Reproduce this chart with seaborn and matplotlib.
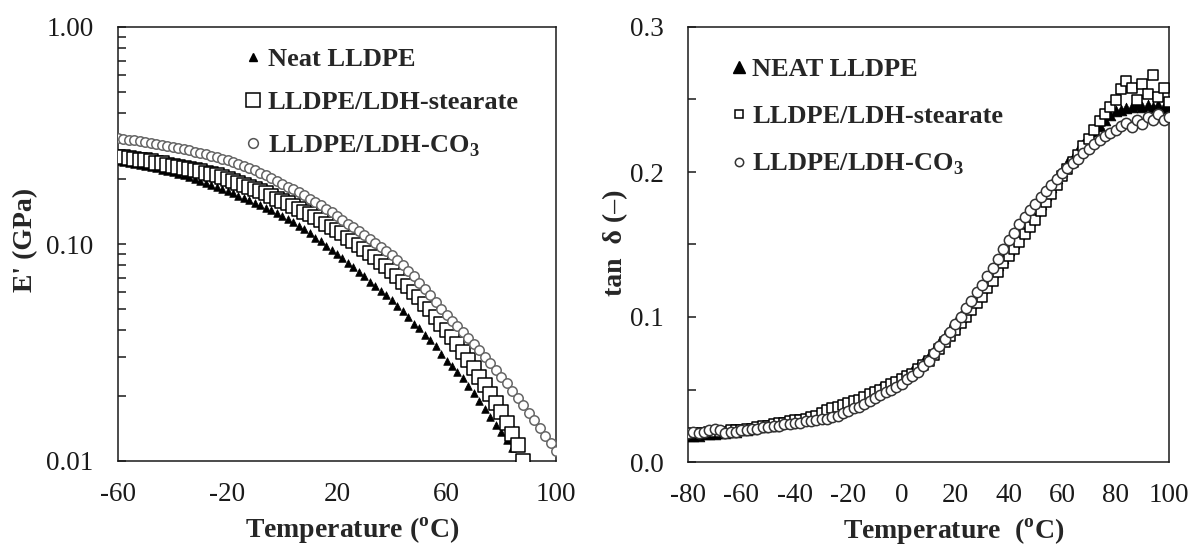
import matplotlib
matplotlib.use("Agg")
import matplotlib.pyplot as plt
import seaborn as sns
from matplotlib.lines import Line2D
from matplotlib.ticker import MultipleLocator, LogLocator, FixedLocator, FixedFormatter, NullFormatter

# ---------------- data: left panel (storage modulus, GPa) ----------------
T_neat_L = [-60, -58, -56, -54, -52, -50, -48, -46, -44, -42, -40, -38, -36, -34, -32, -30,
            -28, -26, -24, -22, -20, -18, -16, -14, -12, -10, -8, -6, -4, -2, 0, 2, 4, 6, 8,
            10, 12, 14, 16, 18, 20, 22, 24, 26, 28, 30, 32, 34, 36, 38, 40, 42, 44, 46, 48,
            50, 52, 54, 56, 58, 60, 62, 64, 66, 68, 70, 72, 74, 76, 78, 80, 82, 84]
E_neat = [0.240, 0.238, 0.235, 0.233, 0.231, 0.229, 0.226, 0.223, 0.220, 0.217, 0.214, 0.210,
          0.207, 0.203, 0.199, 0.195, 0.191, 0.187, 0.183, 0.179, 0.176, 0.171, 0.167, 0.163,
          0.159, 0.155, 0.151, 0.147, 0.143, 0.139, 0.135, 0.130, 0.126, 0.121, 0.117, 0.112,
          0.107, 0.103, 0.098, 0.094, 0.090, 0.086, 0.082, 0.078, 0.074, 0.071, 0.067, 0.064,
          0.061, 0.058, 0.055, 0.052, 0.049, 0.046, 0.043, 0.041, 0.038, 0.036, 0.034, 0.031,
          0.029, 0.0275, 0.0257, 0.0240, 0.0222, 0.0205, 0.0189, 0.0174, 0.0160, 0.0147,
          0.0136, 0.0125, 0.0115]

T_st_L = [-60, -58, -56, -54, -52, -50, -48, -46, -44, -42, -40, -38, -36, -34, -32, -30,
          -28, -26, -24, -22, -20, -18, -16, -14, -12, -10, -8, -6, -4, -2, 0, 2, 4, 6, 8,
          10, 12, 14, 16, 18, 20, 22, 24, 26, 28, 30, 32, 34, 36, 38, 40, 42, 44, 46, 48,
          50, 52, 54, 56, 58, 60, 62, 64, 66, 68, 70, 72, 74, 76, 78, 80, 82, 84, 86, 88]
E_st = [0.253, 0.251, 0.249, 0.247, 0.245, 0.243, 0.240, 0.237, 0.235, 0.232, 0.229, 0.226,
        0.224, 0.221, 0.219, 0.216, 0.213, 0.210, 0.207, 0.203, 0.200, 0.196, 0.192, 0.188,
        0.184, 0.180, 0.176, 0.171, 0.167, 0.162, 0.158, 0.154, 0.150, 0.145, 0.141, 0.137,
        0.133, 0.129, 0.124, 0.120, 0.116, 0.112, 0.107, 0.103, 0.099, 0.095, 0.091, 0.087,
        0.083, 0.079, 0.075, 0.071, 0.067, 0.064, 0.060, 0.057, 0.053, 0.050, 0.046, 0.043,
        0.040, 0.0373, 0.0346, 0.0318, 0.0292, 0.0268, 0.0245, 0.0223, 0.0203, 0.0185,
        0.0168, 0.0150, 0.0133, 0.0118, 0.0100]

T_co3_L = [-60, -58, -56, -54, -52, -50, -48, -46, -44, -42, -40, -38, -36, -34, -32, -30,
           -28, -26, -24, -22, -20, -18, -16, -14, -12, -10, -8, -6, -4, -2, 0, 2, 4, 6, 8,
           10, 12, 14, 16, 18, 20, 22, 24, 26, 28, 30, 32, 34, 36, 38, 40, 42, 44, 46, 48,
           50, 52, 54, 56, 58, 60, 62, 64, 66, 68, 70, 72, 74, 76, 78, 80, 82, 84, 86, 88,
           90, 92, 94, 96, 98, 100]
E_co3 = [0.309, 0.306, 0.303, 0.301, 0.298, 0.295, 0.292, 0.289, 0.286, 0.282, 0.279, 0.276,
         0.273, 0.270, 0.266, 0.263, 0.259, 0.255, 0.251, 0.247, 0.243, 0.238, 0.234, 0.229,
         0.224, 0.219, 0.213, 0.207, 0.202, 0.196, 0.190, 0.184, 0.179, 0.173, 0.168, 0.162,
         0.156, 0.151, 0.145, 0.140, 0.134, 0.129, 0.124, 0.120, 0.115, 0.110, 0.106, 0.101,
         0.097, 0.093, 0.089, 0.084, 0.080, 0.075, 0.071, 0.066, 0.062, 0.058, 0.054, 0.050,
         0.047, 0.0444, 0.0418, 0.0394, 0.0370, 0.0346, 0.0324, 0.0303, 0.0283, 0.0264,
         0.0245, 0.0228, 0.0211, 0.0196, 0.0181, 0.0167, 0.0154, 0.0142, 0.0131, 0.0121,
         0.0111]

# ---------------- data: right panel (tan delta) ----------------
T_R = [-80, -78, -76, -74, -72, -70, -68, -66, -64, -62, -60, -58, -56, -54, -52, -50, -48,
       -46, -44, -42, -40, -38, -36, -34, -32, -30, -28, -26, -24, -22, -20, -18, -16, -14,
       -12, -10, -8, -6, -4, -2, 0, 2, 4, 6, 8, 10, 12, 14, 16, 18, 20, 22, 24, 26, 28, 30,
       32, 34, 36, 38, 40, 42, 44, 46, 48, 50, 52, 54, 56, 58, 60, 62, 64, 66, 68, 70, 72,
       74, 76, 78, 80, 82, 84, 86, 88, 90, 92, 94, 96, 98, 100]
tan_neat = [0.018, 0.018, 0.018, 0.019, 0.019, 0.019, 0.020, 0.020, 0.021, 0.021, 0.022, 0.022,
            0.023, 0.024, 0.024, 0.025, 0.025, 0.026, 0.027, 0.027, 0.028, 0.029, 0.030, 0.031,
            0.032, 0.033, 0.034, 0.036, 0.037, 0.039, 0.040, 0.042, 0.043, 0.045, 0.047, 0.049,
            0.051, 0.052, 0.054, 0.056, 0.058, 0.060, 0.063, 0.066, 0.069, 0.073, 0.077, 0.082,
            0.086, 0.091, 0.095, 0.100, 0.105, 0.110, 0.115, 0.120, 0.125, 0.131, 0.136, 0.141,
            0.146, 0.151, 0.157, 0.162, 0.167, 0.173, 0.178, 0.184, 0.190, 0.196, 0.201, 0.206,
            0.210, 0.215, 0.219, 0.223, 0.228, 0.232, 0.236, 0.239, 0.242, 0.243, 0.244, 0.245,
            0.246, 0.245, 0.246, 0.245, 0.246, 0.245, 0.244]
tan_st = [0.019, 0.020, 0.020, 0.020, 0.021, 0.021, 0.021, 0.021, 0.022, 0.022, 0.022, 0.023,
          0.023, 0.024, 0.025, 0.025, 0.026, 0.027, 0.027, 0.028, 0.029, 0.029, 0.030, 0.031,
          0.032, 0.034, 0.036, 0.037, 0.038, 0.039, 0.041, 0.042, 0.043, 0.045, 0.047, 0.048,
          0.050, 0.052, 0.054, 0.055, 0.057, 0.059, 0.061, 0.064, 0.067, 0.070, 0.074, 0.078,
          0.083, 0.087, 0.091, 0.096, 0.100, 0.105, 0.110, 0.114, 0.120, 0.125, 0.131, 0.137,
          0.142, 0.147, 0.152, 0.157, 0.162, 0.167, 0.173, 0.179, 0.185, 0.191, 0.197, 0.202,
          0.207, 0.212, 0.218, 0.223, 0.229, 0.235, 0.240, 0.245, 0.250, 0.257, 0.263, 0.258,
          0.250, 0.261, 0.254, 0.267, 0.252, 0.258, 0.248]
tan_co3 = [0.020, 0.021, 0.020, 0.021, 0.022, 0.023, 0.022, 0.020, 0.021, 0.021, 0.022, 0.022,
           0.023, 0.023, 0.024, 0.024, 0.025, 0.025, 0.026, 0.026, 0.027, 0.027, 0.028, 0.028,
           0.029, 0.030, 0.030, 0.031, 0.032, 0.034, 0.035, 0.037, 0.038, 0.040, 0.042, 0.044,
           0.046, 0.048, 0.050, 0.052, 0.054, 0.057, 0.059, 0.062, 0.066, 0.070, 0.075, 0.080,
           0.085, 0.090, 0.095, 0.100, 0.106, 0.111, 0.117, 0.122, 0.128, 0.134, 0.140, 0.147,
           0.153, 0.158, 0.164, 0.169, 0.174, 0.178, 0.183, 0.187, 0.191, 0.195, 0.199, 0.203,
           0.206, 0.209, 0.213, 0.216, 0.219, 0.222, 0.225, 0.227, 0.229, 0.232, 0.234, 0.231,
           0.236, 0.233, 0.238, 0.236, 0.240, 0.236, 0.238]

labels_L = ["Neat LLDPE", "LLDPE/LDH-stearate", r"LLDPE/LDH-CO$_\mathbf{3}$"]
labels_R = ["NEAT LLDPE", "LLDPE/LDH-stearate", r"LLDPE/LDH-CO$_\mathbf{3}$"]
xticks_L = [-60, -20, 20, 60, 100]
yticks_L = [0.01, 0.1, 1.0]
yticklabels_L = ["0.01", "0.10", "1.00"]

# ---------------- style ----------------
sns.set_theme(style="white")
plt.rcParams["font.family"] = ["Liberation Serif", "DejaVu Serif"]
plt.rcParams["mathtext.fontset"] = "custom"
plt.rcParams["mathtext.rm"] = "Liberation Serif"
plt.rcParams["mathtext.bf"] = "Liberation Serif:bold"
plt.rcParams["axes.unicode_minus"] = False
plt.rcParams["axes.edgecolor"] = "#1a1a1a"

W, H = 1194, 545
fig = plt.figure(figsize=(W / 100, H / 100), dpi=100)
axL = fig.add_axes([118 / W, 1 - 461 / H, 438 / W, 434 / H])
axR = fig.add_axes([688 / W, 1 - 462 / H, 481 / W, 435 / H])

# ---------------- left panel ----------------
sns.scatterplot(x=T_neat_L, y=E_neat, ax=axL, marker="^", s=30, color="black",
                edgecolor="black", linewidth=0.5, zorder=3)
sns.scatterplot(x=T_st_L, y=E_st, ax=axL, marker="s", s=88, color="white",
                edgecolor="black", linewidth=1.1, zorder=4)
sns.scatterplot(x=T_co3_L, y=E_co3, ax=axL, marker="o", s=46, color="white",
                edgecolor="#666666", linewidth=1.1, zorder=5)
axL.set_yscale("log")
axL.set_xlim(-60, 100)
axL.set_ylim(0.01, 1.0)
axL.xaxis.set_major_locator(FixedLocator(xticks_L))
axL.xaxis.set_minor_locator(MultipleLocator(10))
axL.yaxis.set_major_locator(FixedLocator(yticks_L))
axL.yaxis.set_major_formatter(FixedFormatter(yticklabels_L))
axL.yaxis.set_minor_locator(LogLocator(base=10, subs=range(2, 10)))
axL.yaxis.set_minor_formatter(NullFormatter())

# ---------------- right panel ----------------
sns.scatterplot(x=T_R, y=tan_neat, ax=axR, marker="^", s=60, color="black",
                edgecolor="black", linewidth=0.5, zorder=3)
sns.scatterplot(x=T_R, y=tan_st, ax=axR, marker="s", s=50, color="white",
                edgecolor="black", linewidth=1.1, zorder=4)
sns.scatterplot(x=T_R, y=tan_co3, ax=axR, marker="o", s=55, color="white",
                edgecolor="#333333", linewidth=1.1, zorder=5)
axR.set_xlim(-80, 100)
axR.set_ylim(0.0, 0.3)
axR.xaxis.set_major_locator(MultipleLocator(20))
axR.xaxis.set_minor_locator(MultipleLocator(10))
axR.yaxis.set_major_locator(MultipleLocator(0.1))
axR.yaxis.set_minor_locator(MultipleLocator(0.05))
axR.yaxis.set_major_formatter(plt.FuncFormatter(lambda v, p: f"{v:.1f}"))

for ax in (axL, axR):
    for sp in ax.spines.values():
        sp.set_linewidth(1.1)
        sp.set_visible(True)
    ax.tick_params(axis="both", which="both", direction="in", top=False, right=False,
                   color="#1a1a1a", width=1.1, labelcolor="#1a1a1a")
    ax.tick_params(axis="both", which="major", labelsize=19.5)
    ax.tick_params(axis="x", which="major", length=6, pad=15)
    ax.tick_params(axis="x", which="minor", length=4.5, pad=15)
    ax.tick_params(axis="y", which="both", length=5.8, pad=17.5, left=True)

# labels
axL.set_xlabel(r"Temperature ($^\mathbf{o}$C)", fontsize=20, fontweight="bold", va="top")
axL.xaxis.set_label_coords(0.535, -0.125)
axL.set_ylabel("E' (GPa)", fontsize=20, fontweight="bold")
axL.yaxis.set_label_coords(-0.183, 0.51)

axR.set_xlabel(r"Temperature  ($^\mathbf{o}$C)", fontsize=20, fontweight="bold", va="top")
axR.xaxis.set_label_coords(0.552, -0.125)
axR.set_ylabel("tan  δ (–)", fontsize=20, fontweight="bold")
axR.yaxis.set_label_coords(-0.125, 0.505)

# legends
hL = [Line2D([], [], ls="none", marker="^", ms=5.5, color="black"),
      Line2D([], [], ls="none", marker="s", ms=9.5, mfc="white", mec="black", mew=1.1),
      Line2D([], [], ls="none", marker="o", ms=7, mfc="white", mec="#555555", mew=1.1)]
axL.legend(hL, labels_L, loc="upper left", bbox_to_anchor=(0.288, 0.953), frameon=False,
           borderpad=0, borderaxespad=0, handlelength=0.7, handletextpad=0.2,
           labelspacing=0.74, prop={"family": "Liberation Serif", "weight": "bold", "size": 19})

hR = [Line2D([], [], ls="none", marker="^", ms=8, color="black"),
      Line2D([], [], ls="none", marker="s", ms=6, mfc="white", mec="black", mew=1.1),
      Line2D([], [], ls="none", marker="o", ms=6, mfc="white", mec="#333333", mew=1.1)]
axR.legend(hR, labels_R, loc="upper left", bbox_to_anchor=(0.0894, 0.930), frameon=False,
           borderpad=0, borderaxespad=0, handlelength=0.6, handletextpad=0.2,
           labelspacing=0.9, prop={"family": "Liberation Serif", "weight": "bold", "size": 19})

fig.savefig("out.png", dpi=100)
